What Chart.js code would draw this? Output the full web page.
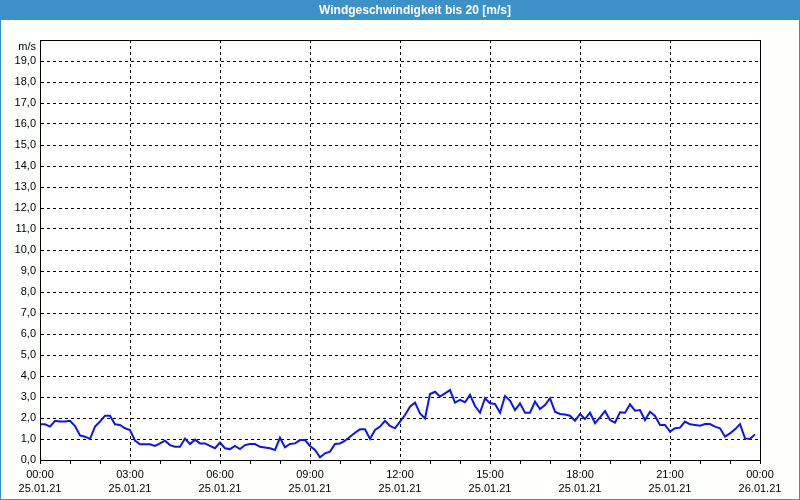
<!DOCTYPE html>
<html><head><meta charset="utf-8">
<script src="https://cdn.jsdelivr.net/npm/chart.js@4"></script>
<style>html,body{margin:0;padding:0;background:#fff}canvas{display:block}</style>
</head><body>
<div style="width:800px;height:500px"><canvas id="c" width="800" height="500"></canvas></div>
<script>
const titleText = 'Windgeschwindigkeit bis 20 [m/s]';
const unitLabel = 'm/s';
const stepMinutes = 10;
const windSpeed = [
  1.70, 1.70, 1.59, 1.87, 1.83, 1.83, 1.87, 1.62, 1.17, 1.11,
  1.00, 1.59, 1.83, 2.11, 2.11, 1.70, 1.67, 1.51, 1.43, 0.92,
  0.75, 0.75, 0.75, 0.67, 0.79, 0.92, 0.71, 0.63, 0.63, 1.02,
  0.76, 0.97, 0.79, 0.79, 0.67, 0.56, 0.83, 0.56, 0.52, 0.67,
  0.52, 0.71, 0.76, 0.76, 0.63, 0.60, 0.56, 0.48, 1.06, 0.60,
  0.76, 0.79, 0.95, 0.95, 0.67, 0.48, 0.13, 0.32, 0.40, 0.76,
  0.79, 0.92, 1.11, 1.30, 1.46, 1.46, 1.00, 1.43, 1.59, 1.87,
  1.62, 1.51, 1.83, 2.14, 2.54, 2.73, 2.22, 1.98, 3.14, 3.25,
  3.02, 3.17, 3.33, 2.73, 2.86, 2.75, 3.10, 2.57, 2.25, 2.94,
  2.70, 2.67, 2.25, 3.05, 2.83, 2.38, 2.70, 2.25, 2.25, 2.78,
  2.43, 2.62, 2.94, 2.30, 2.19, 2.17, 2.11, 1.87, 2.19, 1.95,
  2.25, 1.75, 2.03, 2.33, 1.90, 1.78, 2.27, 2.25, 2.65, 2.35,
  2.38, 1.90, 2.30, 2.10, 1.67, 1.67, 1.35, 1.51, 1.54, 1.83,
  1.70, 1.67, 1.63, 1.71, 1.71, 1.59, 1.51, 1.11, 1.27, 1.46,
  1.71, 1.03, 1.00, 1.22
];
const majorTimes = ['00:00','03:00','06:00','09:00','12:00','15:00','18:00','21:00','00:00'];
const majorDates = ['25.01.21','25.01.21','25.01.21','25.01.21','25.01.21','25.01.21','25.01.21','25.01.21','26.01.21'];

const points = windSpeed.map((v, i) => ({ x: i * stepMinutes / 60, y: v }));
const FONT = 'Liberation Sans, Arial, sans-serif';
const BLUE = '#3c91c9';

const framePlugin = {
  id: 'frame',
  beforeDraw(chart) {
    const ctx = chart.ctx, w = chart.width, h = chart.height;
    ctx.save();
    ctx.fillStyle = '#fdfffd';
    ctx.fillRect(0, 0, w, h);
    ctx.fillStyle = BLUE;
    ctx.fillRect(0, 0, w, 20);
    ctx.fillRect(0, 0, 1, h);
    ctx.fillRect(w - 1, 0, 1, h);
    ctx.fillRect(0, h - 1, w, 1);
    const a = chart.chartArea;
    ctx.fillStyle = '#ffffff';
    ctx.fillRect(a.left, a.top, a.right - a.left, a.bottom - a.top);
    ctx.fillStyle = '#ffffff';
    ctx.font = 'bold 12px ' + FONT;
    ctx.textAlign = 'center';
    ctx.textBaseline = 'middle';
    ctx.fillText(titleText, 415, 10.5);
    ctx.restore();
  },
  afterDraw(chart) {
    const ctx = chart.ctx, a = chart.chartArea;
    ctx.save();
    ctx.strokeStyle = '#000';
    ctx.lineWidth = 1;
    ctx.setLineDash([]);
    ctx.strokeRect(Math.round(a.left) + 0.5, Math.round(a.top) + 0.5,
                   Math.round(a.right - a.left), Math.round(a.bottom - a.top));
    ctx.fillStyle = '#000';
    ctx.font = '11px ' + FONT;
    ctx.textAlign = 'right';
    ctx.textBaseline = 'middle';
    ctx.fillText(unitLabel, a.left - 4, a.top + 7);
    ctx.restore();
  }
};

new Chart(document.getElementById('c'), {
  type: 'line',
  data: {
    datasets: [{
      data: points,
      borderColor: 'rgb(12,22,232)',
      borderWidth: 2,
      pointRadius: 0,
      tension: 0,
      fill: false
    }]
  },
  options: {
    responsive: false,
    devicePixelRatio: 1,
    animation: false,
    layout: { padding: { left: 0, right: 40, top: 40, bottom: 0 } },
    plugins: {
      legend: { display: false },
      tooltip: { enabled: false },
      title: { display: false }
    },
    scales: {
      x: {
        type: 'linear',
        min: 0, max: 24,
        afterFit(s) { s.height = 40; },
        ticks: {
          stepSize: 1,
          autoSkip: false,
          maxRotation: 0,
          padding: 4,
          color: '#000',
          font: { family: FONT, size: 11, lineHeight: 1.3 },
          callback(v) {
            if (v % 3 !== 0) return '';
            return [majorTimes[v / 3], majorDates[v / 3]];
          }
        },
        grid: {
          drawTicks: true,
          tickLength: 4,
          tickColor: '#000',
          tickWidth: 1,
          lineWidth: 1,
          color(c) {
            const v = c.tick ? c.tick.value : 0;
            return (v % 3 === 0 && v > 0 && v < 24) ? '#000' : 'rgba(0,0,0,0)';
          }
        },
        border: { display: true, color: '#000', dash: [3, 3] }
      },
      y: {
        min: 0, max: 20,
        afterFit(s) { s.width = 40; },
        ticks: {
          stepSize: 1,
          padding: 4,
          color: '#000',
          font: { family: FONT, size: 11 },
          callback(v) { return v >= 20 ? '' : v.toFixed(1).replace('.', ','); }
        },
        grid: {
          drawTicks: false,
          lineWidth: 1,
          color(c) {
            const v = c.tick ? c.tick.value : 0;
            return (v > 0 && v < 20) ? '#000' : 'rgba(0,0,0,0)';
          }
        },
        border: { display: true, color: '#000', dash: [3, 3] }
      }
    }
  },
  plugins: [framePlugin]
});
</script>
</body></html>
